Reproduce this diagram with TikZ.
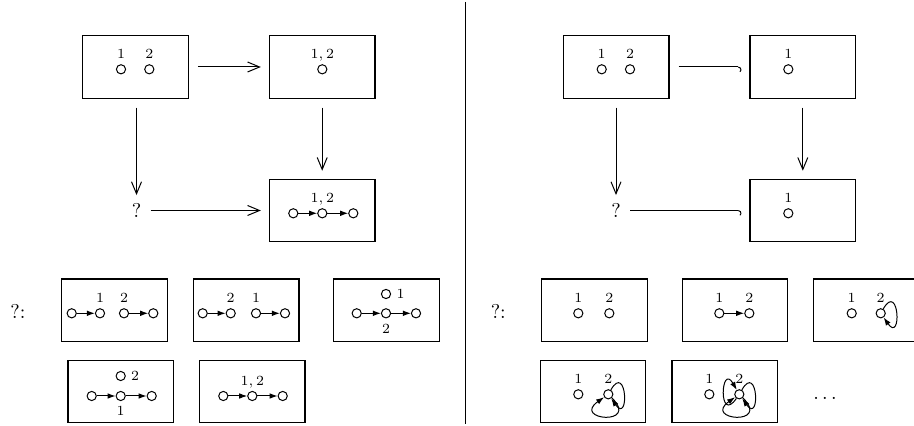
\documentclass[tikz,border=0pt]{standalone}
\usetikzlibrary{arrows.meta}
\begin{document}
\begin{tikzpicture}[x=0.5pt,y=-0.5pt,
 frame/.style={draw, line width=0.55pt, minimum width=52.8pt, minimum height=31.2pt, inner sep=0},
 dot/.style={circle, draw, line width=0.5pt, inner sep=0, minimum size=4.6pt},
 lab/.style={font=\fontsize{7}{8}\selectfont, inner sep=0, text depth=0pt},
 big/.style={font=\fontsize{10}{12}\selectfont, inner sep=0},
 mainarrow/.style={line width=0.5pt, -{Straight Barb[length=6pt,width=5pt]}, shorten <=4.5pt, shorten >=4pt},
 hookarrow/.style={line width=0.5pt, -{Hooks[right,arc=140,length=1.6pt,width=6pt]}, shorten <=4.5pt, shorten >=4pt},
 carrow/.style={line width=0.5pt, -{Latex[length=4pt,width=2.8pt]}},
 every label/.style={lab},
 label distance=2.5pt]
\useasboundingbox (0,0) rectangle (914,426);

% ---------- left panel, square ----------
\node[frame] (A) at (135.5,67) {};
\node[dot,label={above:1}] (a1) at (121,69.3) {};
\node[dot,label={above:2}] (a2) at (149.3,69.3) {};
\node[frame] (B) at (322.2,67) {};
\node[dot,label={above:$1,2$}] (b1) at (322.3,69.3) {};
\node[frame] (C) at (322.2,210.5) {};
\node[dot] (c1) at (293.3,213.3) {};
\node[dot,label={above:$1,2$}] (c2) at (322.3,213.3) {};
\node[dot] (c3) at (353.3,213.3) {};
\draw[carrow] (c1) -- (c2);
\draw[carrow] (c2) -- (c3);
\node[big] (Q) at (136.5,210.5) {?};
\draw[mainarrow] (A) -- (B);
\draw[mainarrow] (Q |- A.south) -- (Q);
\draw[mainarrow] (B) -- (C);
\draw[mainarrow] (Q) -- (C);

% ---------- left panel, candidates ----------
\node[big] (QL) at (18,311.7) {?:};
\node[frame] (L1) at (114.5,310.2) {};
\node[dot] (l1a) at (71.7,313.3) {};
\node[dot,label={above:1}] (l1b) at (100,313.3) {};
\node[dot,label={above:2}] (l1c) at (124,313.3) {};
\node[dot] (l1d) at (153.3,313.3) {};
\draw[carrow] (l1a) -- (l1b);
\draw[carrow] (l1c) -- (l1d);

\node[frame] (L2) at (246.2,310.2) {};
\node[dot] (l2a) at (202.7,313.3) {};
\node[dot,label={above:2}] (l2b) at (230.7,313.3) {};
\node[dot,label={above:1}] (l2c) at (256,313.3) {};
\node[dot] (l2d) at (285,313.3) {};
\draw[carrow] (l2a) -- (l2b);
\draw[carrow] (l2c) -- (l2d);

\node[frame] (L3) at (386.3,310.2) {};
\node[dot] (l3a) at (356.7,313.3) {};
\node[dot,label={below:2}] (l3b) at (386,313.3) {};
\node[dot] (l3c) at (416,313.3) {};
\node[dot,label={right:1}] (l3t) at (386,294) {};
\draw[carrow] (l3a) -- (l3b);
\draw[carrow] (l3b) -- (l3c);

\node[frame] (L4) at (120.8,391.7) {};
\node[dot] (l4a) at (91.7,396) {};
\node[dot,label={below:1}] (l4b) at (120.7,396) {};
\node[dot] (l4c) at (151.7,396) {};
\node[dot,label={right:2}] (l4t) at (120.7,376) {};
\draw[carrow] (l4a) -- (l4b);
\draw[carrow] (l4b) -- (l4c);

\node[frame] (L5) at (252.2,391.7) {};
\node[dot] (l5a) at (223.3,396) {};
\node[dot,label={above:$1,2$}] (l5b) at (252.3,396) {};
\node[dot] (l5c) at (282.7,396) {};
\draw[carrow] (l5a) -- (l5b);
\draw[carrow] (l5b) -- (l5c);

% ---------- divider ----------
\draw[line width=0.7pt] (465.3,2) -- (465.3,424);

% ---------- right panel, square ----------
\node[frame] (RA) at (616.2,67) {};
\node[dot,label={above:1}] (ra1) at (601.7,69.3) {};
\node[dot,label={above:2}] (ra2) at (630,69.3) {};
\node[frame] (RB) at (802.8,67) {};
\node[dot,label={above:1}] (rb1) at (788.3,69.3) {};
\node[frame] (RC) at (802.8,210.5) {};
\node[dot,label={above:1}] (rc1) at (788.3,213.3) {};
\node[big] (RQ) at (616,210.5) {?};
\draw[hookarrow] (RA) -- (RB);
\draw[mainarrow] (RQ |- RA.south) -- (RQ);
\draw[mainarrow] (RB) -- (RC);
\draw[hookarrow] (RQ) -- (RC);

% ---------- right panel, candidates ----------
\node[big] (QR) at (498.3,311.7) {?:};
\node[frame] (R1) at (594.5,310.2) {};
\node[dot,label={above:1}] (r1a) at (578.3,313.3) {};
\node[dot,label={above:2}] (r1b) at (609.3,313.3) {};

\node[frame] (R2) at (735,310.2) {};
\node[dot,label={above:1}] (r2a) at (719.3,313.3) {};
\node[dot,label={above:2}] (r2b) at (749.3,313.3) {};
\draw[carrow] (r2a) -- (r2b);

\node[frame] (R3) at (866.1,310.2) {};
\node[dot,label={above:1}] (r3a) at (851.7,313.3) {};
\node[dot,label={above:2}] (r3b) at (880.7,313.3) {};
\draw[carrow] (r3b) to[out=60,in=-55,min distance=16pt] (r3b);

\node[frame] (R4) at (593,391.7) {};
\node[dot,label={above:1}] (r4a) at (578.3,394.3) {};
\node[dot,label={above:2}] (r4b) at (608.3,394.3) {};
\draw[carrow] (r4b) to[out=60,in=-55,min distance=16pt] (r4b);
\draw[carrow] (r4b) to[out=-45,in=-145,min distance=20pt] (r4b);

\node[frame] (R5) at (724.8,391.7) {};
\node[dot,label={above:1}] (r5a) at (709.3,394.3) {};
\node[dot,label={above:2}] (r5b) at (739.3,394.3) {};
\draw[carrow] (r5b) to[out=60,in=-55,min distance=16pt] (r5b);
\draw[carrow] (r5b) to[out=-125,in=120,min distance=16pt] (r5b);
\draw[carrow] (r5b) to[out=-45,in=-145,min distance=20pt] (r5b);

\node[big] (dd) at (825,398) {$\dots$};
\end{tikzpicture}
\end{document}
